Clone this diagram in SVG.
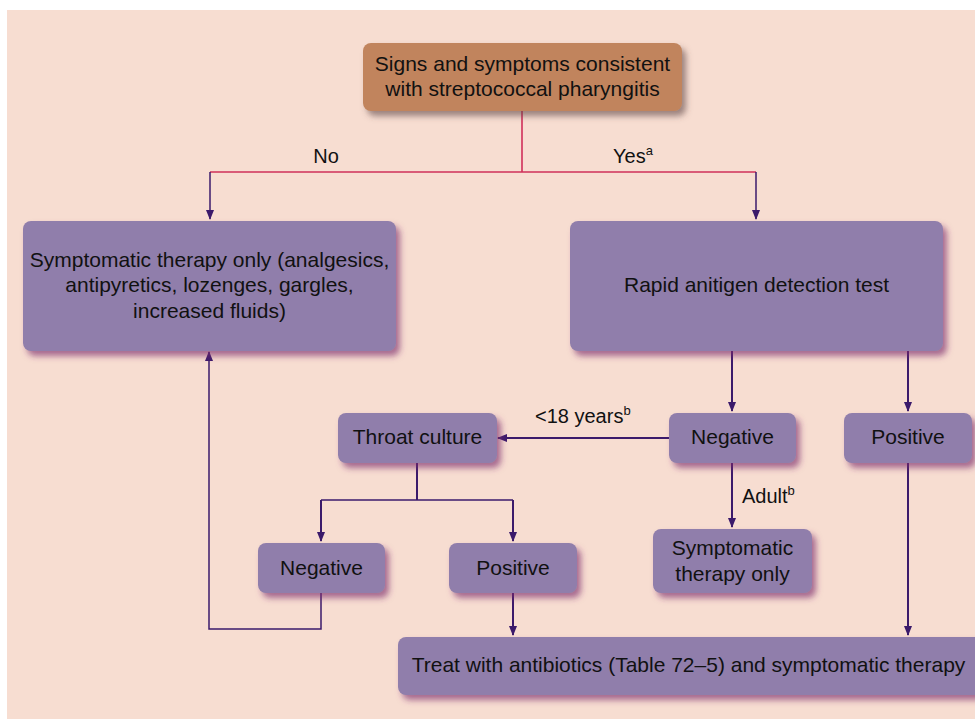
<svg xmlns="http://www.w3.org/2000/svg" width="975" height="719" viewBox="0 0 975 719">
  <defs>
    <filter id="shadowPurple" x="-10%" y="-20%" width="125%" height="150%">
      <feDropShadow dx="4" dy="5" stdDeviation="3" flood-color="#7a2a6c" flood-opacity="0.65"/>
    </filter>
    <filter id="shadowBrown" x="-10%" y="-20%" width="125%" height="150%">
      <feDropShadow dx="4" dy="5" stdDeviation="3" flood-color="#5e4444" flood-opacity="0.6"/>
    </filter>
    <marker id="arrow" viewBox="0 0 10 10" refX="9" refY="5" markerWidth="10" markerHeight="10" markerUnits="userSpaceOnUse" orient="auto">
      <path d="M0,1 L10,5 L0,9 Z" fill="#3b1a6b"/>
    </marker>
    <style>
      .box { fill: #907eab; filter: url(#shadowPurple); }
      .start { fill: #c1845d; filter: url(#shadowBrown); }
      .t { font-family: "Liberation Sans", Arial, sans-serif; font-size: 21px; fill: #111; text-anchor: middle; }
      .lbl { font-family: "Liberation Sans", Arial, sans-serif; font-size: 20px; fill: #111; }
      .sup { font-size: 13px; }
      .link { fill: none; stroke: #3b1a6b; stroke-width: 2; }
      .thin { fill: none; stroke: #3b1a6b; stroke-width: 1.5; }
      .red { fill: none; stroke: #d0305a; stroke-width: 1.6; }
    </style>
  </defs>

  <!-- page background -->
  <rect x="0" y="0" width="975" height="719" fill="#ffffff"/>
  <rect x="7" y="10" width="968" height="709" fill="#f7ddd1"/>

  <!-- connectors -->
  <g id="connectors">
    <path class="red" d="M522,111 V172 M210,172 H756"/>
    <path class="thin" d="M210,172 V219" marker-end="url(#arrow)"/>
    <path class="thin" d="M756,172 V219" marker-end="url(#arrow)"/>
    <path class="link" d="M732,351 V411" marker-end="url(#arrow)"/>
    <path class="link" d="M908,351 V411" marker-end="url(#arrow)"/>
    <path class="link" d="M669,438 H498" marker-end="url(#arrow)"/>
    <path class="link" d="M732,463 V527" marker-end="url(#arrow)"/>
    <path class="link" d="M417,463 V500"/>
    <path class="thin" d="M321,500 H513"/>
    <path class="link" d="M321,500 V541" marker-end="url(#arrow)"/>
    <path class="link" d="M513,500 V541" marker-end="url(#arrow)"/>
    <path class="thin" d="M321,593 V629 H209 V352" marker-end="url(#arrow)"/>
    <path class="link" d="M513,593 V635" marker-end="url(#arrow)"/>
    <path class="link" d="M908,463 V635" marker-end="url(#arrow)"/>

    <text class="lbl" x="326" y="163" text-anchor="middle">No</text>
    <text class="lbl" x="613" y="163">Yes<tspan class="sup" dy="-8">a</tspan></text>
    <text class="lbl" x="535" y="423">&lt;18 years<tspan class="sup" dy="-8">b</tspan></text>
    <text class="lbl" x="742" y="503">Adult<tspan class="sup" dy="-8">b</tspan></text>
  </g>

  <!-- nodes -->
  <g id="signs">
    <rect class="start" x="363" y="43" width="319" height="68" rx="8"/>
    <text class="t" x="522.5" y="70.5">Signs and symptoms consistent</text>
    <text class="t" x="522.5" y="95.5">with streptococcal pharyngitis</text>
  </g>

  <g id="symptomatic-therapy">
    <rect class="box" x="23" y="221" width="373" height="130" rx="8"/>
    <text class="t" x="209.5" y="266.5">Symptomatic therapy only (analgesics,</text>
    <text class="t" x="209.5" y="292">antipyretics, lozenges, gargles,</text>
    <text class="t" x="209.5" y="317.5">increased fluids)</text>
  </g>

  <g id="rapid-test">
    <rect class="box" x="570" y="221" width="373" height="130" rx="8"/>
    <text class="t" x="756.5" y="292">Rapid anitigen detection test</text>
  </g>

  <g id="throat-culture">
    <rect class="box" x="338" y="413" width="159" height="50" rx="8"/>
    <text class="t" x="417.5" y="443.5">Throat culture</text>
  </g>

  <g id="rapid-negative">
    <rect class="box" x="669" y="413" width="127" height="50" rx="8"/>
    <text class="t" x="732.5" y="444">Negative</text>
  </g>

  <g id="rapid-positive">
    <rect class="box" x="844" y="413" width="128" height="50" rx="8"/>
    <text class="t" x="908" y="444">Positive</text>
  </g>

  <g id="culture-negative">
    <rect class="box" x="258" y="543" width="127" height="50" rx="8"/>
    <text class="t" x="321.5" y="575">Negative</text>
  </g>

  <g id="culture-positive">
    <rect class="box" x="449" y="543" width="128" height="50" rx="8"/>
    <text class="t" x="513" y="575">Positive</text>
  </g>

  <g id="symptomatic-only">
    <rect class="box" x="653" y="529" width="159" height="64" rx="8"/>
    <text class="t" x="732.5" y="555">Symptomatic</text>
    <text class="t" x="732.5" y="580.5">therapy only</text>
  </g>

  <g id="treat">
    <rect class="box" x="398" y="637" width="590" height="58" rx="8"/>
    <text class="t" x="688.5" y="672">Treat with antibiotics (Table 72–5) and symptomatic therapy</text>
  </g>
</svg>
